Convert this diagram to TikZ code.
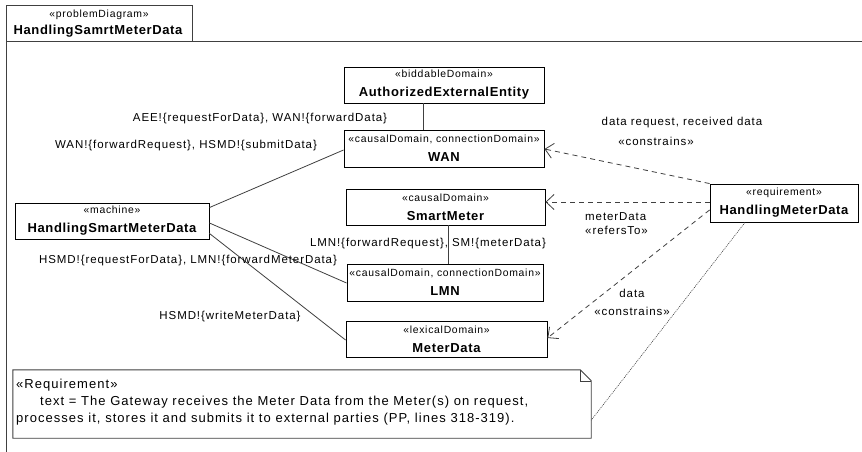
\documentclass[tikz,border=0pt]{standalone}
\usepackage{fontspec}
\setmainfont{Liberation Sans}
\newfontfamily\stereofamily[LetterSpace=7]{Liberation Sans}
\newfontfamily\namefamily[LetterSpace=5]{Liberation Sans}
\newfontfamily\labelfamily[LetterSpace=8]{Liberation Sans}
\newfontfamily\notefamily[LetterSpace=8]{Liberation Sans}
\usetikzlibrary{arrows.meta,calc}
\newcommand{\stereo}[1]{{\stereofamily\fontsize{10.4}{12}\selectfont «#1»}}
\newcommand{\dname}[1]{{\namefamily\bfseries\fontsize{13}{15}\selectfont #1}}
\definecolor{linegray}{HTML}{404040}
\tikzset{
  pdbox/.style={draw=black, line width=0.9pt, fill=white, inner sep=0pt, align=center,
    font=\fontsize{12}{19}\selectfont},
  lbl/.style={inner sep=0pt, font=\labelfamily\fontsize{11.5}{14}\selectfont},
  assoc/.style={draw=linegray, line width=0.8pt},
  depend/.style={draw=linegray, line width=0.8pt, dash pattern=on 5pt off 4pt,
    -{Straight Barb[length=8pt,width=15pt,line width=0.8pt]}},
  dotline/.style={draw=linegray, line width=0.6pt, dash pattern=on 1pt off 1pt},
  frameline/.style={draw=linegray, line width=0.9pt},
}
\begin{document}
\begin{tikzpicture}[x=1pt,y=-1pt]
\useasboundingbox (0,0) rectangle (862,452);
\fill[white] (0,0) rectangle (862,452);

% diagram frame with its name tab
\draw[frameline] (6,452) -- (6,5) -- (192,5) -- (192,41);
\draw[frameline] (6,41) -- (862,41);
\node[inner sep=0pt] (tabst) at (99,15) {\stereo{problemDiagram}};
\node[inner sep=0pt] (tabname) at (98,31) {\dname{HandlingSamrtMeterData}};

% domains
\node[pdbox, minimum width=200pt, minimum height=36pt] (aee) at (444,85)
  {\stereo{biddableDomain}\\\dname{AuthorizedExternalEntity}};
\node[pdbox, minimum width=200pt, minimum height=37pt] (wan) at (444,148.5)
  {\stereo{causalDomain, connectionDomain}\\\dname{WAN}};
\node[pdbox, minimum width=199pt, minimum height=36pt] (sm) at (445.5,207)
  {\stereo{causalDomain}\\\dname{SmartMeter}};
\node[pdbox, minimum width=196pt, minimum height=37pt] (lmn) at (445,282.5)
  {\stereo{causalDomain, connectionDomain}\\\dname{LMN}};
\node[pdbox, minimum width=201pt, minimum height=36pt] (md) at (446.5,339)
  {\stereo{lexicalDomain}\\\dname{MeterData}};
\node[pdbox, minimum width=194pt, minimum height=36pt] (mach) at (112,221)
  {\stereo{machine}\\\dname{HandlingSmartMeterData}};
\node[pdbox, minimum width=148pt, minimum height=38pt] (hmd) at (784,203)
  {\stereo{requirement}\\\dname{HandlingMeterData}};

% interfaces
\draw[assoc] ($(aee.south west)+(80,0)$) -- ($(wan.north west)+(80,0)$);
\draw[assoc] ($(sm.south west)+(103,0)$) -- ($(lmn.north west)+(102,0)$);
\draw[assoc] ($(mach.north east)+(0,5)$) -- ($(wan.west)+(0,1.5)$);
\draw[assoc] ($(mach.east)+(0,2)$) -- ($(lmn.west)+(0,0.5)$);
\draw[assoc] ($(mach.south east)+(0,-6)$) -- ($(md.west)+(0,1)$);

% requirement references
\draw[depend] (hmd.north west) -- ($(wan.east)+(0,0.5)$);
\draw[depend] ($(hmd.west)+(0,-1)$) -- ($(sm.east)+(0,-5)$);
\draw[depend] ($(hmd.west)+(0,7)$) -- ($(md.east)+(0,-1)$);

% interface labels
\node[lbl] (l1) at (260,119) {AEE!\{requestForData\}, WAN!\{forwardData\}};
\node[lbl] (l2) at (186,146) {WAN!\{forwardRequest\}, HSMD!\{submitData\}};
\node[lbl] (l3) at (188,261) {HSMD!\{requestForData\}, LMN!\{forwardMeterData\}};
\node[lbl] (l4) at (230,317) {HSMD!\{writeMeterData\}};
\node[lbl] (l5) at (428,244) {LMN!\{forwardRequest\}, SM!\{meterData\}};

% reference labels
\node[lbl] (r1a) at (682,123) {data request, received data};
\node[lbl] (r1b) at (656,141) {«constrains»};
\node[lbl, align=left, anchor=west, font=\labelfamily\fontsize{11.5}{14}\selectfont] (r2) at (585,224) {meterData\\«refersTo»};
\node[lbl, align=center, font=\labelfamily\fontsize{11.5}{18}\selectfont] (r3) at (632,302) {data\\«constrains»};

% requirement note
\node[inner sep=0pt, minimum width=578pt, minimum height=68pt] (note) at (302,404) {};
\draw[line width=0.9pt, draw=linegray] (note.south west) -- (note.north west)
  -- ($(note.north east)+(-11,0)$) -- ($(note.north east)+(0,11)$) -- (note.south east) -- cycle;
\draw[line width=0.6pt, draw=linegray] ($(note.north east)+(-11,0)$) -- ($(note.north east)+(-11,11)$) -- ($(note.north east)+(0,11)$);
\node[inner sep=0pt, anchor=north west, align=left, font=\notefamily\fontsize{13}{17}\selectfont] (notetext) at (16,379)
  {«Requirement»\\\hspace*{24pt}text = The Gateway receives the Meter Data from the Meter(s) on request,\\processes it, stores it and submits it to external parties (PP, lines 318-319).};
\draw[dotline] ($(hmd.south)+(-39,0)$) -- ($(note.south east)+(0,-18)$);
\end{tikzpicture}
\end{document}
